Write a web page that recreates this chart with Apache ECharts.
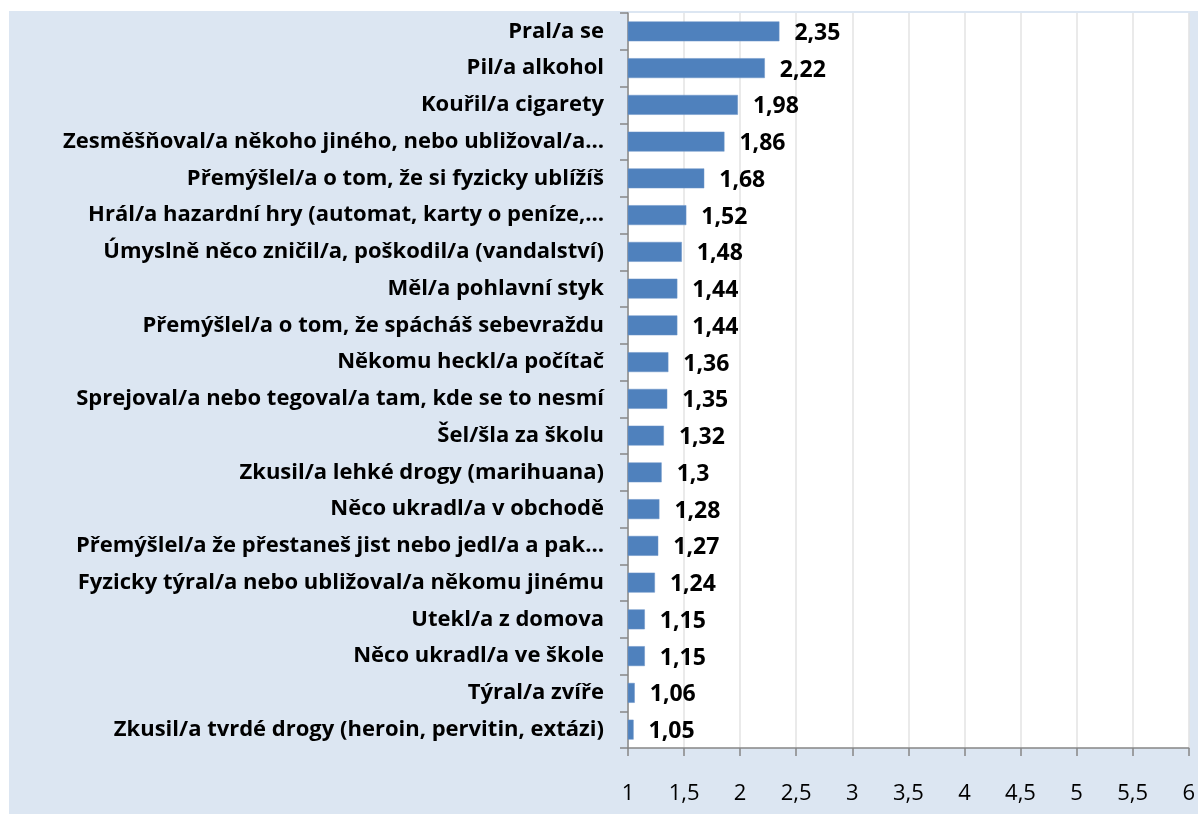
<!DOCTYPE html>
<html lang="cs">
<head>
    <meta charset="UTF-8">
    <title>Rizikové chování</title>
    <script src="https://cdn.jsdelivr.net/npm/echarts@6/dist/echarts.min.js"></script>
    <style>
        body { margin: 0; background: #fff; }
        #container { position: absolute; left: 9px; top: 11px; width: 1189px; height: 803px; background: #dce6f2; }
    </style>
</head>
<body>
<div id="container"></div>
<script type="text/javascript">
var categories = [
    'Pral/a se',
    'Pil/a alkohol',
    'Kouřil/a cigarety',
    'Zesměšňoval/a někoho jiného, nebo ubližoval/a…',
    'Přemýšlel/a o tom, že si fyzicky ublížíš',
    'Hrál/a hazardní hry (automat, karty o peníze,…',
    'Úmyslně něco zničil/a, poškodil/a (vandalství)',
    'Měl/a pohlavní styk',
    'Přemýšlel/a o tom, že spácháš sebevraždu',
    'Někomu heckl/a počítač',
    'Sprejoval/a nebo tegoval/a tam, kde se to nesmí',
    'Šel/šla za školu',
    'Zkusil/a lehké drogy (marihuana)',
    'Něco ukradl/a v obchodě',
    'Přemýšlel/a že přestaneš jist nebo jedl/a a pak…',
    'Fyzicky týral/a nebo ubližoval/a někomu jinému',
    'Utekl/a z domova',
    'Něco ukradl/a ve škole',
    'Týral/a zvíře',
    'Zkusil/a tvrdé drogy (heroin, pervitin, extázi)'
];
var values = [2.35, 2.22, 1.98, 1.86, 1.68, 1.52, 1.48, 1.44, 1.44, 1.36,
              1.35, 1.32, 1.3, 1.28, 1.27, 1.24, 1.15, 1.15, 1.06, 1.05];

var fmt = function (v) { return String(v).replace('.', ','); };

var myChart = echarts.init(document.getElementById('container'));
var option = {
    animation: false,
    textStyle: { fontFamily: 'Open Sans' },
    grid: {
        left: 619, top: 2, right: 8, bottom: 66,
        show: true, backgroundColor: '#ffffff', borderWidth: 0
    },
    xAxis: {
        type: 'value',
        min: 1, max: 6, interval: 0.5,
        axisLine: { show: true, lineStyle: { color: '#868686', width: 1.5 } },
        axisTick: { show: true, length: 8, lineStyle: { color: '#868686', width: 1.5 } },
        splitLine: { show: true, lineStyle: { color: '#e3e3e3', width: 1.5 } },
        axisLabel: { color: '#000', fontSize: 22, margin: 35, formatter: fmt }
    },
    yAxis: {
        type: 'category',
        inverse: true,
        data: categories,
        axisLine: { show: true, lineStyle: { color: '#868686', width: 1.5 } },
        axisTick: { show: true, length: 8, lineStyle: { color: '#868686', width: 1.5 } },
        axisLabel: { color: '#000', fontSize: 22, fontWeight: 'bold', margin: 24, padding: [3, 0, 0, 0] }
    },
    series: [{
        type: 'bar',
        data: values,
        barCategoryGap: '46%',
        itemStyle: { color: '#4f81bd', borderColor: '#6d95c8', borderWidth: 0.5 },
        label: {
            show: true,
            position: 'right',
            distance: 15,
            offset: [0, 2],
            color: '#000',
            fontSize: 23,
            fontWeight: 'bold',
            formatter: function (p) { return fmt(p.value); }
        }
    }]
};
myChart.setOption(option);
</script>
</body>
</html>
